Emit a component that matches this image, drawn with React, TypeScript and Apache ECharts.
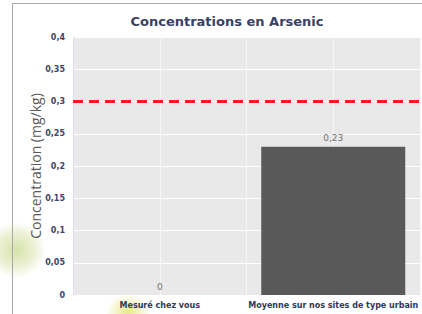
import React, { useEffect, useRef } from "react";
import * as echarts from "echarts";

const categories = ["Mesuré chez vous", "Moyenne sur nos sites de type urbain"];
const values = [0, 0.23];
const threshold = 0.3;
const yTicks = { min: 0, max: 0.4, interval: 0.05 };

const fmt = (v: number) => String(+v.toFixed(2)).replace(".", ",");

export default function App() {
  const ref = useRef<HTMLDivElement>(null);
  useEffect(() => {
    const chart = echarts.init(ref.current!, null, { renderer: "svg" });
    chart.setOption({
      animation: false,
      backgroundColor: "#ffffff",
      title: {
        text: "Concentrations en Arsenic",
        left: 222,
        textAlign: "center",
        top: 10,
        textStyle: { fontFamily: "DejaVu Sans", fontWeight: "bold", fontSize: 13, color: "#3a3f66" },
      },
      graphic: [
        {
          type: "ellipse",
          shape: { cx: 16, cy: 250, rx: 30, ry: 28 },
          style: {
            fill: new echarts.graphic.RadialGradient(0.5, 0.5, 0.5, [
              { offset: 0, color: "rgba(200,216,140,0.75)" },
              { offset: 0.6, color: "rgba(210,222,155,0.45)" },
              { offset: 1, color: "rgba(214,224,160,0)" },
            ]),
          },
          z: -10,
        },
        {
          type: "ellipse",
          shape: { cx: 128, cy: 312, rx: 22, ry: 18 },
          style: {
            fill: new echarts.graphic.RadialGradient(0.5, 0.5, 0.5, [
              { offset: 0, color: "rgba(225,228,110,0.8)" },
              { offset: 1, color: "rgba(225,228,110,0)" },
            ]),
          },
          z: -10,
        },
        { type: "line", shape: { x1: 12, y1: 3.5, x2: 422, y2: 3.5 }, style: { stroke: "#a8a8a8", lineWidth: 1 } },
        { type: "line", shape: { x1: 12.5, y1: 3, x2: 12.5, y2: 314 }, style: { stroke: "#a8a8a8", lineWidth: 1 } },
      ],
      grid: {
        left: 73,
        right: 2,
        top: 37,
        bottom: 19,
        show: true,
        backgroundColor: "#e9e9e9",
        borderWidth: 0,
      },
      xAxis: [
        {
          type: "category",
          data: categories,
          axisLine: { show: false },
          axisTick: { show: false },
          splitLine: { show: false },
          axisLabel: {
            margin: 6,
            fontFamily: "DejaVu Sans",
            fontWeight: "bold",
            fontSize: 8,
            color: "#2e3a5c",
            interval: 0,
          },
        },
        {
          type: "value",
          min: 0,
          max: 4,
          interval: 1,
          position: "bottom",
          axisLine: { show: false },
          axisTick: { show: false },
          axisLabel: { show: false },
          splitLine: { show: true, lineStyle: { color: "#f6f6f6", width: 1 } },
        },
      ],
      yAxis: {
        type: "value",
        min: yTicks.min,
        max: yTicks.max,
        interval: yTicks.interval,
        name: "Concentration (mg/kg)",
        nameLocation: "middle",
        nameGap: 31,
        nameMoveOverlap: false,
        nameTextStyle: { fontFamily: "Open Sans", fontSize: 14, color: "#595959" },
        axisLine: { show: true, lineStyle: { color: "#dbe3f3", width: 1 } },
        axisTick: { show: false },
        axisLabel: {
          formatter: (v: number) => fmt(v),
          margin: 8,
          fontFamily: "DejaVu Sans",
          fontWeight: "bold",
          fontSize: 8,
          color: "#3c4570",
        },
        splitLine: { show: true, lineStyle: { color: "#ffffff", width: 1 } },
      },
      series: [
        {
          type: "bar",
          xAxisIndex: 0,
          data: values,
          barWidth: "83%",
          itemStyle: { color: "#595959" },
          label: {
            show: true,
            position: "top",
            distance: 4,
            formatter: (p: any) => fmt(p.value),
            fontFamily: "DejaVu Sans",
            fontSize: 9,
            color: "#707070",
          },
          markLine: {
            silent: true,
            symbol: "none",
            label: { show: false },
            lineStyle: { color: "#ff1a1a", width: 3, type: [10, 6] },
            data: [{ yAxis: threshold }],
          },
        },
      ],
    });
    return () => chart.dispose();
  }, []);
  return <div ref={ref} style={{ position: "fixed", left: 0, top: 0, width: 422, height: 314 }} />;
}
